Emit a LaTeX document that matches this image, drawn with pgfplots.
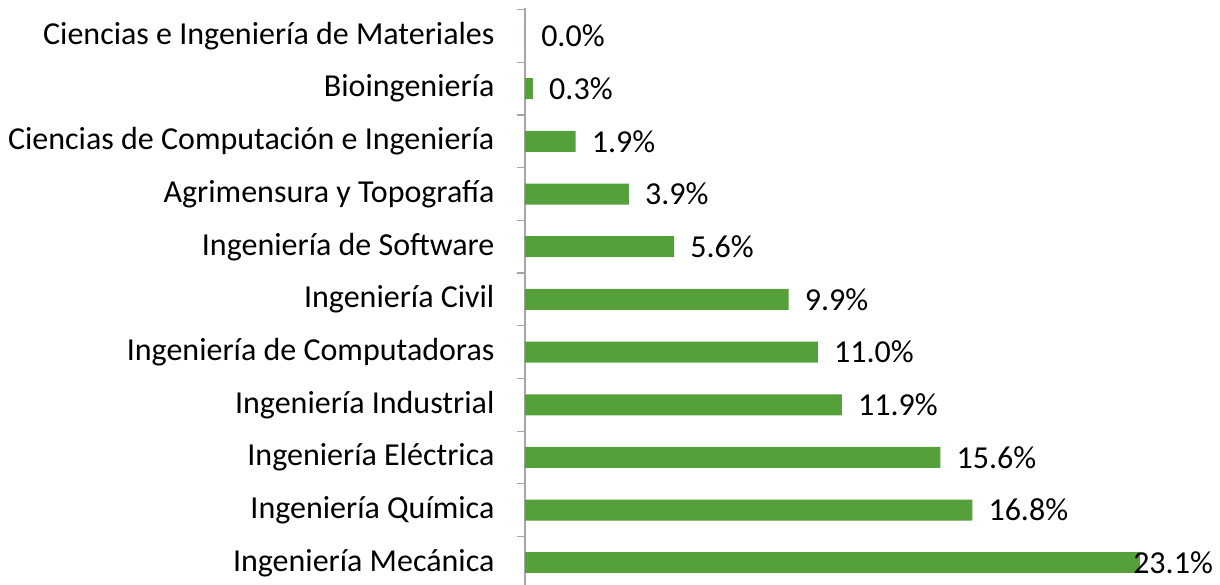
\documentclass[border=0pt]{standalone}
\usepackage{pgfplots}
\pgfplotsset{compat=1.18}
\usepackage{fontspec}
\setmainfont{Carlito}
\definecolor{bargreen}{HTML}{56A03C}
\definecolor{axisgray}{HTML}{A6A6A6}
\begin{document}
\begin{tikzpicture}
\begin{axis}[
  scale only axis,
  width=461.25pt, height=432.75pt,
  xmin=0, xmax=23.1,
  ymin=-0.42, ymax=10.53,
  axis x line=none,
  axis y line*=left,
  y axis line style={axisgray, line width=0.9pt},
  xbar, bar width=15.75pt, bar shift=0pt,
  ytick={0,...,10},
  yticklabels={Ingeniería Mecánica, Ingeniería Química, Ingeniería Eléctrica, Ingeniería Industrial, Ingeniería de Computadoras, Ingeniería Civil, Ingeniería de Software, Agrimensura y Topografía, Ciencias de Computación e Ingeniería, Bioingeniería, Ciencias e Ingeniería de Materiales},
  major tick length=0pt,
  minor ytick={-0.5,0.5,...,10.5},
  minor tick length=6pt,
  tick align=outside,
  minor tick style={axisgray, line width=0.9pt},
  yticklabel style={font=\fontsize{24}{28}\selectfont, anchor=east, inner sep=0pt, xshift=-22.75pt},
  /pgf/number format/assume math mode=true,
  nodes near coords={\pgfmathprintnumber[fixed,fixed zerofill,precision=1]{\pgfplotspointmeta}\%},
  every node near coord/.append style={font=\fontsize{24}{28}\selectfont, anchor=west, inner sep=0pt, text=black},
  clip=false,
]
\addplot[fill=bargreen, draw=none, every node near coord/.append style={xshift=12pt}] coordinates {
  (16.8,1) (15.6,2) (11.9,3) (11.0,4) (9.9,5) (5.6,6) (3.9,7) (1.9,8) (0.3,9) (0.0,10)
};
\addplot[fill=bargreen, draw=none, every node near coord/.append style={xshift=-5.25pt}] coordinates {
  (23.1,0)
};
\coordinate (SW) at (rel axis cs:0,0);
\coordinate (NW) at (rel axis cs:0,1);
\end{axis}
\pgfresetboundingbox
\useasboundingbox ([xshift=-393.75pt]SW) rectangle ([xshift=521.25pt,yshift=6pt]NW);
\end{tikzpicture}
\end{document}
